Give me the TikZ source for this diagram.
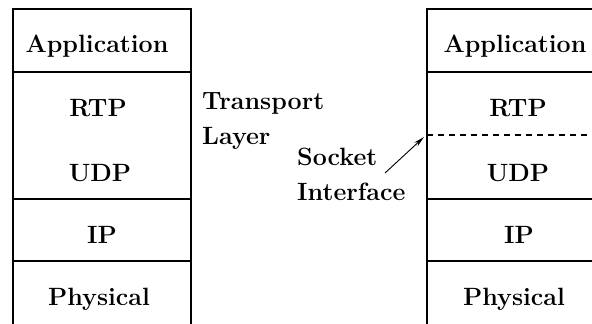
\documentclass[tikz,border=0pt]{standalone}
\usetikzlibrary{arrows.meta,positioning}

\begin{document}
\begin{tikzpicture}[
    x=1pt, y=-1pt,
    wall/.style={line width=1.1pt},
    lbl/.style={font=\fontsize{25}{35}\selectfont\bfseries, inner sep=0pt},
    side/.style={lbl, align=left, anchor=west}
]
\useasboundingbox (0,0) rectangle (592,324);

% left stack
\draw[wall] (13,324) -- (13,9) -- (191,9) -- (191,324);
\draw[wall] (13,72) -- (191,72);
\draw[wall] (13,199) -- (191,199);
\draw[wall] (13,261) -- (191,261);

\node[lbl] (appL) at (97,46) {Application};
\node[lbl] (rtpL) at (98,108) {RTP};
\node[lbl] (udpL) at (100,173) {UDP};
\node[lbl] (ipL) at (102,235) {IP};
\node[lbl] (phyL) at (99,299) {Physical};

% right stack
\draw[wall] (427,324) -- (427,9) -- (592,9);
\draw[wall] (427,72) -- (592,72);
\draw[wall] (427,199) -- (592,199);
\draw[wall] (427,261) -- (592,261);
\draw[wall, dash pattern=on 6pt off 5pt] (427,135) -- (592,135);

\node[lbl] (appR) at (515,46) {Application};
\node[lbl] (rtpR) at (518,108) {RTP};
\node[lbl] (udpR) at (518,173) {UDP};
\node[lbl] (ipR) at (519,235) {IP};
\node[lbl] (phyR) at (514,299) {Physical};

% labels in between
\node[side] (transport) at (202,121) {Transport\\Layer};
\node[side] (socket) at (297,174) {Socket\\Interface};

\coordinate (sockTail) at (385,173);
\coordinate (sockHead) at (424,137);
\draw[line width=0.9pt, -{Stealth[length=11pt,width=5pt]}] (sockTail) -- (sockHead);

\end{tikzpicture}
\end{document}
